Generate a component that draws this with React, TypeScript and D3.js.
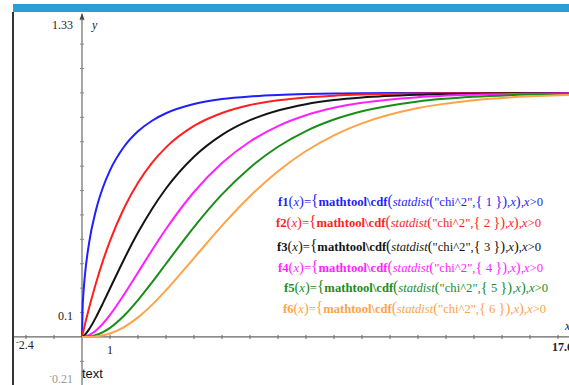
import React from "react";
import * as d3 from "d3";

const X_GRID = [0, 0.02, 0.05, 0.1, 0.25, 0.5, 0.75, 1, 1.5, 2, 2.5, 3, 4, 5, 6, 7, 8, 9, 10, 12, 14, 16, 17.6];
const F1 = [0, 0.1125, 0.1769, 0.2482, 0.3829, 0.5205, 0.6135, 0.6827, 0.7793, 0.8427, 0.8861, 0.9167, 0.9545, 0.9747, 0.9857, 0.9918, 0.9953, 0.9973, 0.9984, 0.9995, 0.9998, 0.9999, 1.0];
const F2 = [0, 0.01, 0.0247, 0.0488, 0.1175, 0.2212, 0.3127, 0.3935, 0.5276, 0.6321, 0.7135, 0.7769, 0.8647, 0.9179, 0.9502, 0.9698, 0.9817, 0.9889, 0.9933, 0.9975, 0.9991, 0.9997, 0.9998];
const F3 = [0, 0.0007, 0.0029, 0.0082, 0.0309, 0.0811, 0.1386, 0.1987, 0.3177, 0.4276, 0.5247, 0.6084, 0.7385, 0.8282, 0.8884, 0.9281, 0.954, 0.9707, 0.9814, 0.9926, 0.9971, 0.9989, 0.9995];
const F4 = [0, 0, 0.0003, 0.0012, 0.0072, 0.0265, 0.055, 0.0902, 0.1734, 0.2642, 0.3554, 0.4422, 0.594, 0.7127, 0.8009, 0.8641, 0.9084, 0.9389, 0.9596, 0.9826, 0.9927, 0.997, 0.9985];
const F5 = [0, 0, 0, 0.0002, 0.0015, 0.0079, 0.0198, 0.0374, 0.0869, 0.1509, 0.2235, 0.3, 0.4505, 0.5841, 0.6938, 0.7794, 0.8438, 0.8909, 0.9247, 0.9652, 0.9844, 0.9932, 0.9965];
const F6 = [0, 0, 0, 0, 0.0003, 0.0022, 0.0067, 0.0144, 0.0405, 0.0803, 0.1315, 0.1912, 0.3233, 0.4562, 0.5768, 0.6792, 0.7619, 0.8264, 0.8753, 0.938, 0.9704, 0.9862, 0.9927];
const DEGREES = [1, 2, 3, 4, 5, 6];
const SERIES = [F1, F2, F3, F4, F5, F6];
const COLORS = ["#1f1fff", "#ff1f1f", "#141414", "#ff1fff", "#1a8c1a", "#ffa347"];
const X_DOMAIN = [-2.4, 17.6];
const Y_DOMAIN = [-0.21, 1.33];

const W = 569;
const H = 385;

export default function App() {
  const x = d3.scaleLinear().domain(X_DOMAIN).range([14.8, 574.8]);
  const y = d3.scaleLinear().domain(Y_DOMAIN).range([388.2, 12.4]);
  const line = d3
    .line<number>()
    .x((_, i) => x(X_GRID[i]))
    .y((v) => y(v))
    .curve(d3.curveMonotoneX);

  const x0 = x(0);
  const y0 = y(0);
  const xTicks = d3.range(-2, 18, 1).filter((t) => t !== 0);
  const yTicks = d3.range(-2, 14, 1).map((t) => t / 10).filter((t) => t !== 0);

  const legendPos = [
    [278, 206, 265],
    [276, 227, 265],
    [277, 251, 264],
    [278, 272, 265],
    [284, 292, 264],
    [283, 313, 263],
  ];

  const serif = "'Liberation Serif', 'Times New Roman', serif";

  return (
    <svg
      width={W}
      height={H}
      style={{ position: "absolute", left: 0, top: 0, background: "#fff" }}
      fontFamily={serif}
    >
      <defs>
        <clipPath id="plot">
          <rect x={14} y={12} width={W - 14} height={H - 12} />
        </clipPath>
      </defs>
      <rect x={0} y={0} width={W} height={H} fill="#fff" />
      {/* top bar and left border */}
      <rect x={13} y={4} width={W - 13} height={8} fill="#2a9fd6" />
      <rect x={12} y={12} width={2} height={H - 12} fill="#333" />

      {/* axes */}
      <line x1={14} x2={W} y1={y0} y2={y0} stroke="#666" strokeWidth={1.3} />
      <line x1={x0} x2={x0} y1={14} y2={H} stroke="#888" strokeWidth={1.5} />
      <path d={`M${x0 - 2.5},${20} L${x0},${13} L${x0 + 2.5},${20} Z`} fill="#444" />
      {xTicks.map((t) => (
        <line key={"xt" + t} x1={x(t)} x2={x(t)} y1={y0 - 2} y2={y0 + 2} stroke="#666" strokeWidth={1} />
      ))}
      {yTicks.map((t) => (
        <line key={"yt" + t} x1={x0 - 2} x2={x0 + 2} y1={y(t)} y2={y(t)} stroke="#888" strokeWidth={1} />
      ))}

      {/* curves */}
      <g clipPath="url(#plot)">
        {SERIES.map((s, i) => (
          <path key={i} d={line(s) || ""} fill="none" stroke={COLORS[i]} strokeWidth={2} />
        ))}
      </g>

      {/* axis labels */}
      <text x={73} y={29} fontSize={12} textAnchor="end" fill="#222">1.33</text>
      <text x={92} y={29} fontSize={12} fontStyle="italic" fill="#222">y</text>
      <text x={73} y={320} fontSize={12} textAnchor="end" fill="#222">0.1</text>
      <text x={73} y={383} fontSize={12} textAnchor="end" fill="#999">
        <tspan fontSize={8} dy={-4}>-</tspan>
        <tspan dy={4}>0.21</tspan>
      </text>
      <text x={16} y={349} fontSize={12} fill="#222">
        <tspan fontSize={8} dy={-4}>-</tspan>
        <tspan dy={4}>2.4</tspan>
      </text>
      <text x={x(1)} y={354} fontSize={12} textAnchor="middle" fill="#222">1</text>
      <text x={552} y={351} fontSize={12} fontWeight="bold" fill="#222">17.6</text>
      <text x={565} y={330} fontSize={12} fontStyle="italic" fill="#222">x</text>
      <text x={82} y={378} fontSize={13} fontFamily="'Liberation Sans', Arial, sans-serif" fill="#111">text</text>

      {/* formulas */}
      {DEGREES.map((k, i) => {
        const [lx, ly, lw] = legendPos[i];
        const c = COLORS[i];
        return (
          <text key={"f" + k} x={lx} y={ly} fontSize={13.5} fill={c} textLength={lw} lengthAdjust="spacingAndGlyphs">
            <tspan fontWeight="bold">{`f${k}`}</tspan>
            <tspan fontSize={15.5}>(</tspan>
            <tspan fontStyle="italic">x</tspan>
            <tspan fontSize={15.5}>)</tspan>
            <tspan>=</tspan>
            <tspan fontSize={16.5}>{"{"}</tspan>
            <tspan fontWeight="bold">mathtool\cdf</tspan>
            <tspan fontSize={16.5}>(</tspan>
            <tspan fontStyle="italic">statdist</tspan>
            <tspan fontSize={15.5}>(</tspan>
            <tspan>"chi^2",</tspan>
            <tspan fontSize={15.5}>{"{"}</tspan>
            <tspan>{` ${k} `}</tspan>
            <tspan fontSize={15.5}>{"}"}</tspan>
            <tspan fontSize={15.5}>)</tspan>
            <tspan fontStyle="italic">,x</tspan>
            <tspan fontSize={15.5}>)</tspan>
            <tspan>,</tspan>
            <tspan fontStyle="italic">x</tspan>
            <tspan>{">0"}</tspan>
          </text>
        );
      })}
    </svg>
  );
}
